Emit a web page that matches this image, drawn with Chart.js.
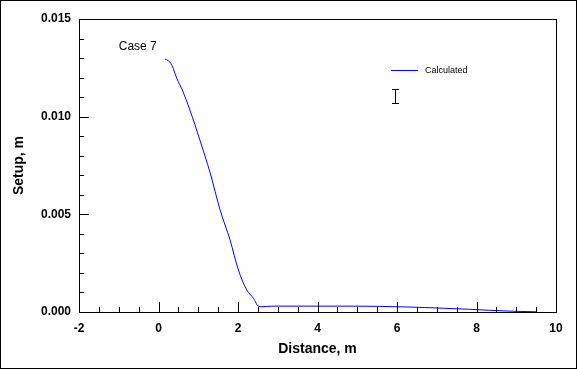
<!DOCTYPE html>
<html>
<head>
<meta charset="utf-8">
<script src="https://cdn.jsdelivr.net/npm/chart.js@4.4.0/dist/chart.umd.min.js"></script>
<style>
  html, body { margin: 0; padding: 0; background: #fff; }
  canvas { display: block; }
</style>
</head>
<body>
<canvas id="setupChart" width="577" height="369"></canvas>
<script>
// distance (m) and computed setup (m) for Case 7
const distance = [0.16, 0.25, 0.31, 0.37, 0.46, 0.6, 0.79, 1.04, 1.3, 1.55, 1.8, 2.01, 2.22, 2.39, 2.51, 2.6, 2.85, 4.9, 6.2, 7.2, 7.8, 8.3, 8.9, 9.5];
const setup = [0.01295, 0.01286, 0.01273, 0.01247, 0.01196, 0.01136, 0.01034, 0.00881, 0.00712, 0.00522, 0.00369, 0.00215, 0.00113, 0.0007, 0.0003, 0.00027, 0.0003, 0.0003, 0.00026, 0.00019, 0.00014, 0.00009, 0.00004, 0.00001];
const xTicks = [-2, 0, 2, 4, 6, 8, 10];
const yTicks = [0, 0.005, 0.01, 0.015];

const points = distance.map((d, i) => ({ x: d, y: setup[i] }));
const ctx = document.getElementById('setupChart').getContext('2d');

// inward tick marks, frame, legend and the "Case 7" note
const decorations = {
    id: 'decorations',
    afterDraw(chart) {
        const c = chart.ctx;
        const a = chart.chartArea;
        const xs = chart.scales.x;
        const ys = chart.scales.y;
        c.save();
        c.strokeStyle = '#000';
        c.lineWidth = 1;
        c.strokeRect(0.5, 0.5, chart.width - 1, chart.height - 1);
        c.strokeRect(Math.round(a.left) + 0.5, Math.round(a.top) + 0.5,
            Math.round(a.right - a.left), Math.round(a.bottom - a.top));
        c.beginPath();
        for (let v = -2; v <= 10.001; v += 0.5) {
            const px = Math.round(xs.getPixelForValue(v)) + 0.5;
            const len = Math.abs(v % 2) < 0.01 ? 10 : 5;
            c.moveTo(px, a.bottom);
            c.lineTo(px, a.bottom - len);
        }
        for (let v = 0; v <= 0.0150001; v += 0.001) {
            const py = Math.round(ys.getPixelForValue(v)) + 0.5;
            const major = Math.abs(v / 0.005 - Math.round(v / 0.005)) < 0.01;
            c.moveTo(a.left, py);
            c.lineTo(a.left + (major ? 10 : 5), py);
        }
        c.stroke();

        // legend
        c.strokeStyle = '#0000ff';
        c.beginPath();
        c.moveTo(391, 70.5);
        c.lineTo(418, 70.5);
        c.stroke();
        c.fillStyle = '#000';
        c.font = '9px "Liberation Sans", Arial, sans-serif';
        c.textBaseline = 'middle';
        c.fillText('Calculated', 425, 71);

        // error-bar symbol
        c.strokeStyle = '#000';
        c.beginPath();
        c.moveTo(395.5, 90);
        c.lineTo(395.5, 103);
        c.moveTo(392, 89.5);
        c.lineTo(399, 89.5);
        c.moveTo(392, 103.5);
        c.lineTo(399, 103.5);
        c.stroke();

        c.font = '12px "Liberation Sans", Arial, sans-serif';
        c.textBaseline = 'middle';
        c.fillText('Case 7', xs.getPixelForValue(-1.0), ys.getPixelForValue(0.0136));
        c.restore();
    }
};

new Chart(ctx, {
    type: 'scatter',
    data: {
        datasets: [{
            label: 'Calculated',
            data: points,
            showLine: true,
            borderColor: '#0000ff',
            borderWidth: 1,
            pointRadius: 0,
            cubicInterpolationMode: 'monotone'
        }]
    },
    options: {
        responsive: false,
        animation: false,
        layout: { padding: { top: 19, right: 21, left: 0, bottom: 0 } },
        plugins: {
            legend: { display: false },
            tooltip: { enabled: false }
        },
        scales: {
            x: {
                type: 'linear',
                min: -2,
                max: 10,
                afterBuildTicks: (s) => { s.ticks = xTicks.map(v => ({ value: v })); },
                afterFit: (s) => { s.height = 57; },
                grid: { drawOnChartArea: false, drawTicks: false },
                border: { display: false },
                ticks: {
                    padding: 9,
                    color: '#000',
                    font: { family: '"Liberation Sans", Arial, sans-serif', size: 12, weight: 'bold' }
                },
                title: {
                    display: true,
                    text: 'Distance, m',
                    color: '#000',
                    padding: { top: 6, bottom: 11 },
                    font: { family: '"Liberation Sans", Arial, sans-serif', size: 14, weight: 'bold' }
                }
            },
            y: {
                type: 'linear',
                min: 0,
                max: 0.015,
                afterBuildTicks: (s) => { s.ticks = yTicks.map(v => ({ value: v })); },
                afterFit: (s) => { s.width = 79; },
                grid: { drawOnChartArea: false, drawTicks: false },
                border: { display: false },
                ticks: {
                    padding: 8,
                    color: '#000',
                    callback: (v) => Number(v).toFixed(3),
                    font: { family: '"Liberation Sans", Arial, sans-serif', size: 12, weight: 'bold' }
                },
                title: {
                    display: true,
                    text: 'Setup, m',
                    color: '#000',
                    padding: { top: 11, bottom: 4 },
                    font: { family: '"Liberation Sans", Arial, sans-serif', size: 14, weight: 'bold' }
                }
            }
        }
    },
    plugins: [decorations]
});
</script>
</body>
</html>
